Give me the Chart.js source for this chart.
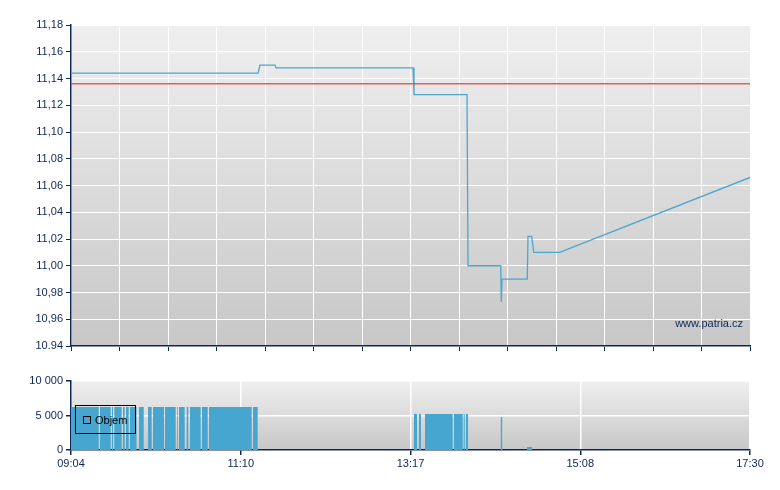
<!DOCTYPE html>
<html>
<head>
<meta charset="utf-8">
<script src="https://cdn.jsdelivr.net/npm/chart.js@4/dist/chart.umd.min.js"></script>
<style>
  html, body { margin: 0; padding: 0; background: #fff; }
  canvas { display: block; }
</style>
</head>
<body>
<canvas id="price" width="780" height="360"></canvas>
<canvas id="volume" width="780" height="130"></canvas>
<script>
// x is the session position, 0..140 (the axis is not linear in time)
const priceX = [0, 38.56, 38.97, 42.06, 42.27, 70.52, 70.72, 81.65, 81.86, 88.60, 88.72, 88.87, 94.08, 94.23, 94.99, 95.40, 100.76, 140];
const priceY = [11.144, 11.144, 11.150, 11.150, 11.148, 11.148, 11.128, 11.128, 11.000, 11.000, 10.973, 10.990, 10.990, 11.022, 11.022, 11.010, 11.010, 11.066];
const refX = [0, 140];
const refY = [11.136, 11.136];
const priceTicks = ['10.94', '10,96', '10,98', '11,00', '11,02', '11,04', '11,06', '11,08', '11,10', '11,12', '11,14', '11,16', '11,18'];

const volStart = [0, 5.98, 8.45, 8.93, 10.72, 11.34, 12.16, 14.02, 15.88, 16.91, 19.38, 21.86, 22.27, 23.86, 24.54, 27.01, 28.45, 37.53,
  70.72, 71.75, 72.99, 78.97, 80.97, 81.44, 88.62, 94.02];
const volEnd = [5.71, 8.19, 8.66, 10.45, 11.07, 11.90, 13.51, 14.99, 16.64, 19.18, 21.59, 22.00, 23.44, 24.19, 26.74, 28.19, 37.26, 38.49,
  71.34, 72.16, 78.70, 80.76, 81.18, 81.86, 88.90, 95.05];
const volValue = [6250, 6250, 6250, 6250, 6250, 6250, 6250, 6250, 6250, 6250, 6250, 6250, 6250, 6250, 6250, 6250, 6250, 6250,
  5200, 5200, 5200, 5200, 5200, 5200, 4780, 435];
const volTicks = ['0', '5 000', '10 000'];
const timeLabels = ['09:04', '11:10', '13:17', '15:08', '17:30'];

const NAVY = '#0d2657';
const FONT = { family: 'Liberation Sans, Arial, sans-serif', size: 11 };

const bgPlugin = {
  id: 'bg',
  beforeDraw(chart) {
    const { ctx, chartArea: a } = chart;
    const g = ctx.createLinearGradient(0, a.top, 0, a.bottom);
    g.addColorStop(0, '#efefef');
    g.addColorStop(1, '#c7c7c7');
    ctx.save();
    ctx.fillStyle = g;
    ctx.fillRect(a.left, a.top, a.right - a.left, a.bottom - a.top);
    ctx.restore();
  }
};

const watermark = {
  id: 'watermark',
  afterDraw(chart) {
    const { ctx, chartArea: a } = chart;
    ctx.save();
    ctx.font = '11px Liberation Sans, Arial, sans-serif';
    ctx.fillStyle = NAVY;
    ctx.textAlign = 'right';
    ctx.textBaseline = 'alphabetic';
    ctx.fillText('www.patria.cz', a.right - 7, a.bottom - 19);
    ctx.restore();
  }
};

const legendBox = {
  id: 'legendBox',
  afterDraw(chart) {
    const { ctx, chartArea: a } = chart;
    const x = a.left + 4.5, y = a.top + 24.5;
    ctx.save();
    ctx.strokeStyle = '#000';
    ctx.lineWidth = 1;
    ctx.strokeRect(x, y, 60, 28);
    ctx.strokeRect(x + 8, y + 11, 7, 7);
    ctx.font = '11px Liberation Sans, Arial, sans-serif';
    ctx.fillStyle = '#000';
    ctx.textBaseline = 'middle';
    ctx.fillText('Objem', x + 19.5, y + 15);
    ctx.restore();
  }
};

new Chart(document.getElementById('price'), {
  type: 'line',
  data: {
    datasets: [{
      data: refX.map((x, i) => ({ x, y: refY[i] })),
      borderColor: 'rgba(222,70,70,0.85)',
      borderWidth: 1.5,
      pointRadius: 0
    }, {
      data: priceX.map((x, i) => ({ x, y: priceY[i] })),
      borderColor: '#4ba6d0',
      borderWidth: 1.3,
      pointRadius: 0,
      tension: 0
    }]
  },
  options: {
    responsive: false,
    animation: false,
    layout: { padding: { left: 0, right: 30, top: 25, bottom: 0 } },
    plugins: { legend: { display: false }, tooltip: { enabled: false } },
    scales: {
      x: {
        type: 'linear', min: 0, max: 140,
        ticks: { display: false, stepSize: 10 },
        grid: { color: '#ffffff', lineWidth: 1, tickColor: NAVY, tickLength: 5 },
        border: { color: NAVY, width: 1.5 },
        afterFit(s) { s.height = 14; }
      },
      y: {
        min: 10.94, max: 11.18,
        ticks: { stepSize: 0.02, color: NAVY, font: FONT, padding: 3,
          callback: (v, i) => priceTicks[i] },
        grid: { color: '#ffffff', lineWidth: 1, tickColor: NAVY, tickLength: 5 },
        border: { color: NAVY, width: 1.5 },
        afterFit(s) { s.width = 71; }
      }
    }
  },
  plugins: [bgPlugin, watermark]
});

const volData = [];
volStart.forEach((s, i) => {
  volData.push({ x: s, y: volValue[i] });
  volData.push({ x: volEnd[i], y: 0 });
});

new Chart(document.getElementById('volume'), {
  type: 'line',
  data: {
    datasets: [{
      data: volData,
      stepped: true,
      fill: 'origin',
      backgroundColor: '#47a6cf',
      borderColor: 'transparent',
      borderWidth: 0,
      pointRadius: 0
    }]
  },
  options: {
    responsive: false,
    animation: false,
    layout: { padding: { left: 0, right: 30, top: 21, bottom: 0 } },
    plugins: { legend: { display: false }, tooltip: { enabled: false } },
    scales: {
      x: {
        type: 'linear', min: 0, max: 140,
        ticks: { stepSize: 35, color: NAVY, font: FONT, padding: 2, autoSkip: false, maxRotation: 0,
          callback: (v, i) => timeLabels[i] },
        grid: { color: '#ffffff', lineWidth: 1.5, tickColor: NAVY, tickLength: 5 },
        border: { color: NAVY, width: 1.5 },
        afterFit(s) { s.height = 40; }
      },
      y: {
        min: 0, max: 10000,
        ticks: { stepSize: 5000, color: NAVY, font: FONT, padding: 3,
          callback: (v, i) => volTicks[i] },
        grid: { color: '#ffffff', lineWidth: 1.5, tickColor: NAVY, tickLength: 5 },
        border: { color: NAVY, width: 1.5 },
        afterFit(s) { s.width = 71; }
      }
    }
  },
  plugins: [bgPlugin, legendBox]
});
</script>
</body>
</html>
